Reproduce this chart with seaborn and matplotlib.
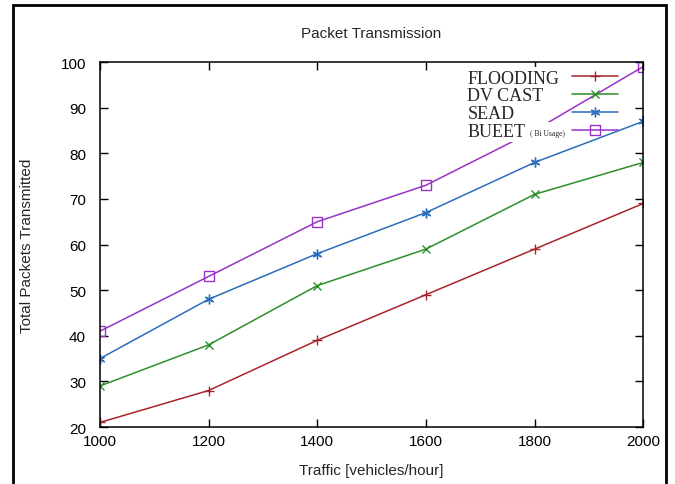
import numpy as np
import pandas as pd
import matplotlib
matplotlib.use("Agg")
import matplotlib.pyplot as plt
import seaborn as sns
from matplotlib.patches import Rectangle

# values
traffic = [1000, 1200, 1400, 1600, 1800, 2000]
flooding = [21, 28, 39, 49, 59, 69]
dv_cast = [29, 38, 51, 59, 71, 78]
sead = [35, 48, 58, 67, 78, 87]
bueet = [41, 53, 65, 73, 85, 99]

schemes = ["FLOODING", "DV CAST", "SEAD", "BUEET"]
colors = ["#a8242c", "#2b8f2b", "#2a6ebd", "#9a32c8"]
markers = ["+", "x", (6, 2, 0), "s"]
msizes = [7, 6, 7, 6.5]

df = pd.DataFrame({
    "traffic": traffic * len(schemes),
    "packets": flooding + dv_cast + sead + bueet,
    "scheme": np.repeat(schemes, len(traffic)),
})

sns.set_style("ticks")
plt.rcParams["font.family"] = ["Liberation Sans", "DejaVu Sans"]
serif = ["Liberation Serif", "DejaVu Serif"]

fig = plt.figure(figsize=(6.75, 4.85), dpi=100)
ax = fig.add_axes([0.148, 0.1175, 0.805, 0.7525])

# filled and line-art markers can't be mixed in one seaborn call, so one per scheme
for name, c, m, ms in zip(schemes, colors, markers, msizes):
    sns.lineplot(data=df[df["scheme"] == name], x="traffic", y="packets",
                 color=c, marker=m, markersize=ms, mec=c, mfc="none", mew=1.0,
                 lw=1.1, ax=ax, label=name, legend=False)

ax.set_xlim(1000, 2000)
ax.set_ylim(20, 100)
ax.set_xticks(traffic)
ax.set_yticks(range(20, 101, 10))
ax.tick_params(direction="in", length=6, width=1, top=True, right=True,
               colors="black", labelsize=11)
ax.tick_params(axis="y", pad=10)
ax.tick_params(axis="x", pad=5)
for sp in ax.spines.values():
    sp.set_color("black")
    sp.set_linewidth(1.1)

ax.set_title("Packet Transmission", fontsize=11, pad=18)
ax.set_xlabel("Traffic [vehicles/hour]", fontsize=11, labelpad=11)
ax.set_ylabel("Total Packets Transmitted", fontsize=11, labelpad=19)

leg = ax.legend(handles=ax.lines, labels=schemes, loc="upper right",
                bbox_to_anchor=(0.976, 1.014), frameon=False, markerfirst=False,
                prop={"family": serif, "size": 13}, handlelength=2.5,
                handletextpad=1.0, labelspacing=0.05, borderpad=0.2)

# gnuplot-style key: labels left aligned on white boxes
fig.canvas.draw()
texts = leg.get_texts()
boxes = [t.get_window_extent() for t in texts]
x0 = min(b.x0 for b in boxes) + 5
inv = ax.transAxes.inverted()
last = None
for t, b in zip(texts, boxes):
    t.set_visible(False)
    xa, ya = inv.transform((x0, (b.y0 + b.y1) / 2))
    last = ax.text(xa, ya, t.get_text(), transform=ax.transAxes, ha="left", va="center",
                   family=serif, fontsize=13, zorder=4.5,
                   bbox=dict(fc="white", ec="none", pad=1.5))
ax.annotate("( Bi Usage)", xy=(1, 0.5), xycoords=last, xytext=(3, -1),
            textcoords="offset points", ha="left", va="center", family=serif,
            fontsize=5.5, zorder=4, bbox=dict(fc="white", ec="none", pad=5))

fig.patches.append(Rectangle((0.019, -0.01), 0.968, 0.998, transform=fig.transFigure,
                             fill=False, lw=2, edgecolor="black"))

fig.savefig("out.png", dpi=100)
